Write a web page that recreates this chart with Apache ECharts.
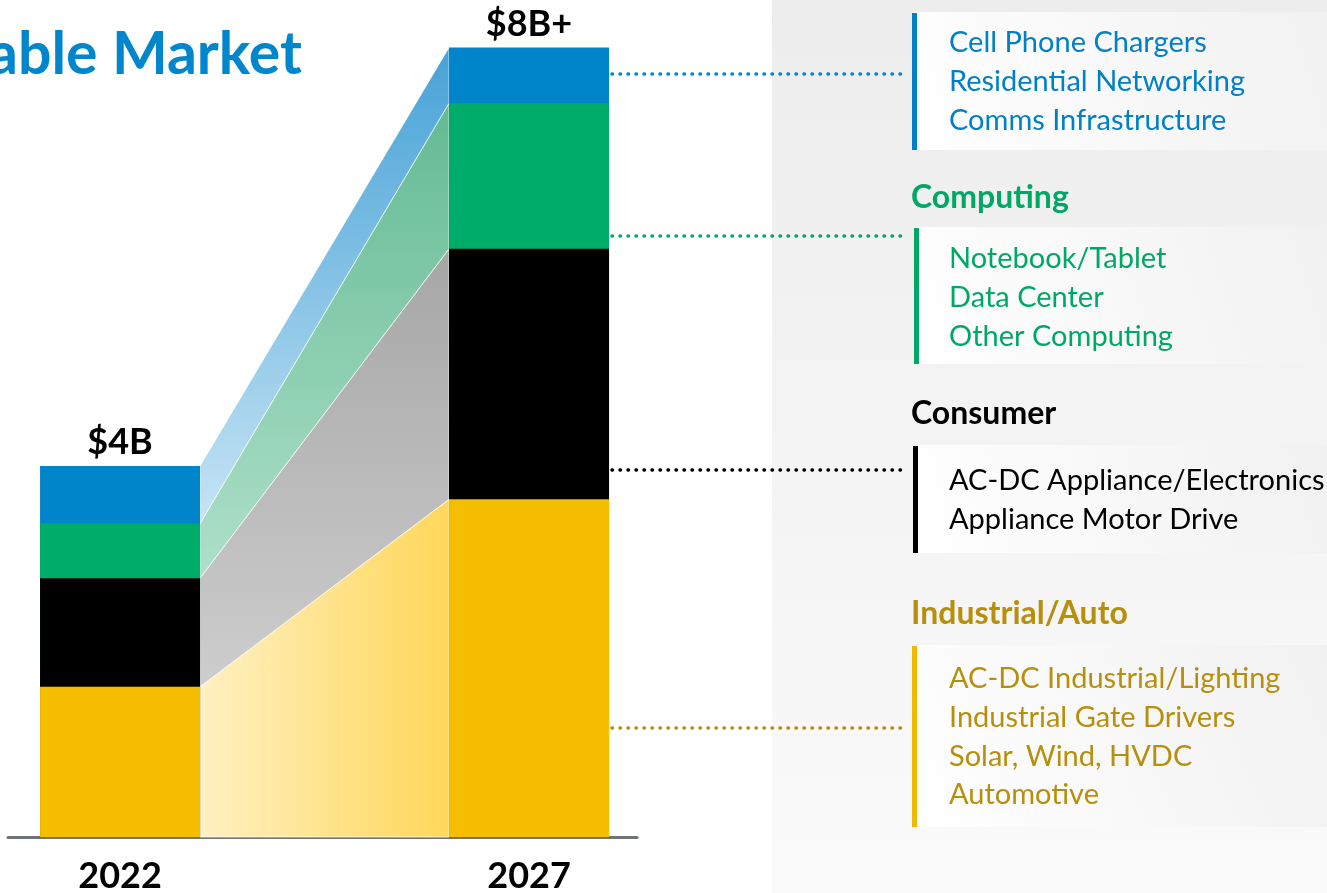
<!DOCTYPE html>
<html>
<head>
<meta charset="utf-8">
<title>Market</title>
<script src="https://cdn.jsdelivr.net/npm/echarts@6.0.0/dist/echarts.min.js"></script>
<style>
  html, body { margin: 0; padding: 0; background: #fff; }
  #main { width: 1327px; height: 893px; }
</style>
</head>
<body>
<div id="main"></div>
<script>
  // data ($B), stacked bottom to top
  const years = [2022, 2027]
  const industrial = [1.62, 3.64]
  const consumer = [1.17, 2.70]
  const computing = [0.59, 1.57]
  const comms = [0.62, 0.60]
  const totalLabels = ['$4B', '$8B+']

  // right-hand legend texts
  const headings = ['Computing', 'Consumer', 'Industrial/Auto']
  const commsItems = ['Cell Phone Chargers', 'Residential Networking', 'Comms Infrastructure']
  const computingItems = ['Notebook/Tablet', 'Data Center', 'Other Computing']
  const consumerItems = ['AC-DC Appliance/Electronics', 'Appliance Motor Drive']
  const industrialItems = ['AC-DC Industrial/Lighting', 'Industrial Gate Drivers', 'Solar, Wind, HVDC', 'Automotive']

  const font = 'Lato, "Open Sans", sans-serif'
  const barColors = ['#F5BE00', '#000000', '#00AC69', '#0084CA']
  const series = [industrial, consumer, computing, comms]
  const BAR_W = 160

  // cumulative levels (value axis can't stack by x, so bars are drawn to the running total)
  const levels = [[0, 0]]
  series.forEach((s, k) => {
    levels.push(s.map((v, j) => levels[k][j] + v))
  })

  const bandFills = [
    new echarts.graphic.LinearGradient(0, 0, 1, 0, [
      { offset: 0, color: '#FEF0C2' }, { offset: 1, color: '#FFD75A' }
    ]),
    new echarts.graphic.LinearGradient(0, 0, 0, 1, [
      { offset: 0, color: '#A6A6A6' }, { offset: 1, color: '#CDCDCD' }
    ]),
    new echarts.graphic.LinearGradient(0, 0, 0, 1, [
      { offset: 0, color: '#63BA93' }, { offset: 1, color: '#AEE0C9' }
    ]),
    new echarts.graphic.LinearGradient(0, 0, 0, 1, [
      { offset: 0, color: '#46A2D6' }, { offset: 1, color: '#C6E4F5' }
    ])
  ]

  function renderBand (params, api) {
    const k = params.dataIndex
    const lo = levels[k]
    const hi = levels[k + 1]
    const a = api.coord([years[0], hi[0]])
    const b = api.coord([years[1], hi[1]])
    const c = api.coord([years[1], lo[1]])
    const d = api.coord([years[0], lo[0]])
    const h = BAR_W / 2
    return {
      type: 'polygon',
      shape: { points: [[a[0] + h, a[1]], [b[0] - h, b[1]], [c[0] - h, c[1]], [d[0] + h, d[1]]] },
      style: { fill: bandFills[k], stroke: 'rgba(255,255,255,0.7)', lineWidth: 1 }
    }
  }

  // right panel
  const groups = [
    { head: null, color: '#0080C6', bar: '#0080C6', items: commsItems, box: [12, 150], barX: 912, y0: 43 },
    { head: headings[0], color: '#00A865', bar: '#00A865', items: computingItems, box: [227, 364], barX: 914, headY: 198, y0: 259 },
    { head: headings[1], color: '#000000', bar: '#000000', items: consumerItems, box: [445, 553], barX: 913, headY: 414, y0: 481 },
    { head: headings[2], color: '#B88F0C', bar: '#F5B800', items: industrialItems, box: [645, 827], barX: 912, headY: 614, y0: 679 }
  ]
  const leaders = [
    { y: 74, color: '#0086CC' },
    { y: 236, color: '#00A865' },
    { y: 470, color: '#000000' },
    { y: 728, color: '#B88F0C' }
  ]

  const graphics = [
    {
      type: 'rect', z: -10, silent: true,
      shape: { x: 772, y: 0, width: 555, height: 893 },
      style: {
        fill: new echarts.graphic.LinearGradient(0, 0, 0, 1, [
          { offset: 0, color: '#EDEDED' }, { offset: 1, color: '#FAFAFA' }
        ])
      }
    },
    {
      type: 'text', left: -12, top: 25,
      style: { text: 'able Market', fill: '#0086CC', font: 'bold 59px ' + font }
    }
  ]
  groups.forEach(g => {
    graphics.push({
      type: 'rect', z: -5, silent: true,
      shape: { x: g.barX, y: g.box[0], width: 1327 - g.barX, height: g.box[1] - g.box[0] },
      style: {
        fill: new echarts.graphic.LinearGradient(0, 1, 1, 0, [
          { offset: 0, color: '#FFFFFF' }, { offset: 1, color: '#F1F1F1' }
        ])
      }
    })
    graphics.push({
      type: 'rect', silent: true,
      shape: { x: g.barX, y: g.box[0] + 1, width: 5, height: g.box[1] - g.box[0] - 1 },
      style: { fill: g.bar }
    })
    if (g.head) {
      graphics.push({
        type: 'text', x: 911, y: g.headY,
        style: { text: g.head, fill: g.color, font: 'bold 32px ' + font, verticalAlign: 'middle' }
      })
    }
    g.items.forEach((t, i) => {
      graphics.push({
        type: 'text', x: 949, y: g.y0 + i * 38.6,
        style: { text: t, fill: g.color, font: '29px ' + font, verticalAlign: 'middle' }
      })
    })
  })
  leaders.forEach(l => {
    graphics.push({
      type: 'line', silent: true,
      shape: { x1: 612, y1: l.y, x2: 904, y2: l.y },
      style: { stroke: l.color, lineWidth: 3.5, lineDash: [0.5, 7.5], lineCap: 'round' }
    })
  })

  // tallest (top segment) first so lower segments paint over it
  const barSeries = []
  for (let k = series.length - 1; k >= 0; k--) {
    barSeries.push({
      type: 'bar',
      name: 'seg' + k,
      barWidth: BAR_W,
      barGap: '-100%',
      z: 2,
      itemStyle: { color: barColors[k] },
      label: k === series.length - 1 ? {
        show: true,
        position: 'top',
        distance: 5,
        color: '#000',
        fontFamily: font,
        fontWeight: 'bold',
        fontSize: 36,
        formatter: p => totalLabels[p.dataIndex]
      } : { show: false },
      data: years.map((y, j) => [y, levels[k + 1][j]])
    })
  }

  const chart = echarts.init(document.getElementById('main'))
  chart.setOption({
    animation: false,
    backgroundColor: '#ffffff',
    grid: { left: 8, right: 690, top: 2, bottom: 56, outerBoundsMode: 'none' },
    xAxis: {
      type: 'value',
      min: 2020.63,
      max: 2028.32,
      splitLine: { show: false },
      axisTick: { show: false },
      axisLine: { show: true, lineStyle: { color: '#6E7477', width: 3 } },
      axisLabel: {
        customValues: years,
        formatter: v => String(v),
        margin: 21,
        color: '#000',
        fontFamily: font,
        fontWeight: 'bold',
        fontSize: 36
      }
    },
    yAxis: { type: 'value', min: 0, max: 9, show: false },
    graphic: graphics,
    series: [
      {
        type: 'custom',
        renderItem: renderBand,
        data: series.map((s, k) => [years[0], levels[k + 1][0]]),
        z: 1
      },
      ...barSeries
    ]
  })
</script>
</body>
</html>
